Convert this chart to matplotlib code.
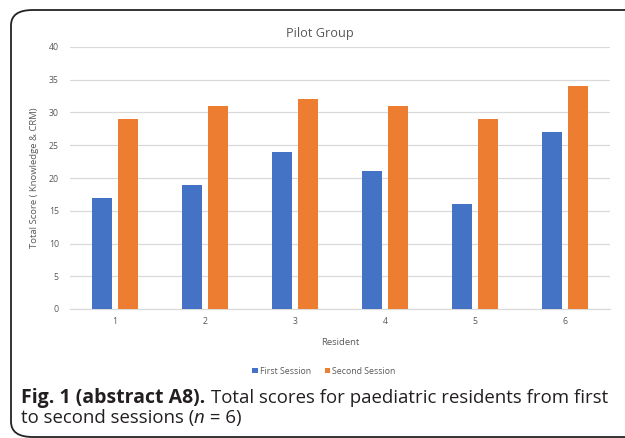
import matplotlib
matplotlib.use("Agg")
import matplotlib.pyplot as plt
from matplotlib.patches import FancyBboxPatch
import numpy as np

residents = ["1", "2", "3", "4", "5", "6"]
first_session = [17, 19, 24, 21, 16, 27]
second_session = [29, 31, 32, 31, 29, 34]
yticks = [0, 5, 10, 15, 20, 25, 30, 35, 40]

W, H = 625, 438
plt.rcParams['font.family'] = ['Open Sans', 'DejaVu Sans']
fig = plt.figure(figsize=(W / 100, H / 100), dpi=100)

# rounded frame
frame = FancyBboxPatch((11 / W, 1 - 437 / H), (660 - 11) / W, (437 - 10) / H,
                       boxstyle="round,pad=0,rounding_size=0.035",
                       transform=fig.transFigure, fill=False,
                       edgecolor="#222222", linewidth=1.3, clip_on=False)
fig.patches.append(frame)

ax = fig.add_axes([70 / W, 1 - 309 / H, (610 - 70) / W, (309 - 47) / H])
x = np.arange(len(residents))
bw = 0.22
off = 0.145
ax.bar(x - off, first_session, bw, color="#4472C4", label="First Session", zorder=3)
ax.bar(x + off, second_session, bw, color="#ED7D31", label="Second Session", zorder=3)

ax.set_xlim(-0.5, len(residents) - 0.5)
ax.set_ylim(0, 40)
ax.set_yticks(yticks)
ax.set_xticks(x)
ax.set_xticklabels(residents)
ax.yaxis.grid(True, color="#D9D9D9", linewidth=0.9, zorder=0)
for s in ["top", "right", "left"]:
    ax.spines[s].set_visible(False)
ax.spines["bottom"].set_color("#D9D9D9")
ax.tick_params(axis="both", length=0, labelsize=6.3, colors="#595959")
ax.tick_params(axis="y", pad=8)
ax.tick_params(axis="x", pad=6)

ax.set_xlabel("Resident", fontsize=6.8, color="#595959")
ax.xaxis.set_label_coords(0.5, -(338 - 309) / 262)
ax.set_ylabel("Total Score ( Knowledge & CRM)", fontsize=6.8, color="#595959")
ax.yaxis.set_label_coords(-(70 - 39) / 540, 0.5)

fig.text(320 / W, 1 - 33 / H, "Pilot Group", fontsize=9.2, color="#595959",
         ha="center", va="center")

leg = fig.legend(loc="center", bbox_to_anchor=(324 / W, 1 - 371 / H), ncol=2,
                 frameon=False, fontsize=6.3, handlelength=0.6, handleheight=0.6,
                 handletextpad=0.25, columnspacing=1.6)
for t in leg.get_texts():
    t.set_color("#595959")

cap_color = "#231F20"
y1 = 1 - 398 / H
y2 = 1 - 418 / H
t_bold = fig.text(21 / W, y1, "Fig. 1 (abstract A8).", fontsize=14.0, fontweight="bold",
                  color=cap_color, va="center", ha="left")
fig.canvas.draw()
r = fig.canvas.get_renderer()
bb = t_bold.get_window_extent(r)
fig.text((bb.x1 + 6) / W, y1, "Total scores for paediatric residents from first",
         fontsize=13.45, color=cap_color, va="center", ha="left")
t_a = fig.text(21 / W, y2, "to second sessions (", fontsize=13.45, color=cap_color,
               va="center", ha="left")
fig.canvas.draw()
bb2 = t_a.get_window_extent(r)
t_b = fig.text((bb2.x1 - 1) / W, y2, "n", fontsize=13.45, color=cap_color, style="italic",
               va="center", ha="left")
fig.canvas.draw()
bb3 = t_b.get_window_extent(r)
fig.text((bb3.x1 + 1) / W, y2, " = 6)", fontsize=13.45, color=cap_color,
         va="center", ha="left")

fig.savefig("out.png", dpi=100)
